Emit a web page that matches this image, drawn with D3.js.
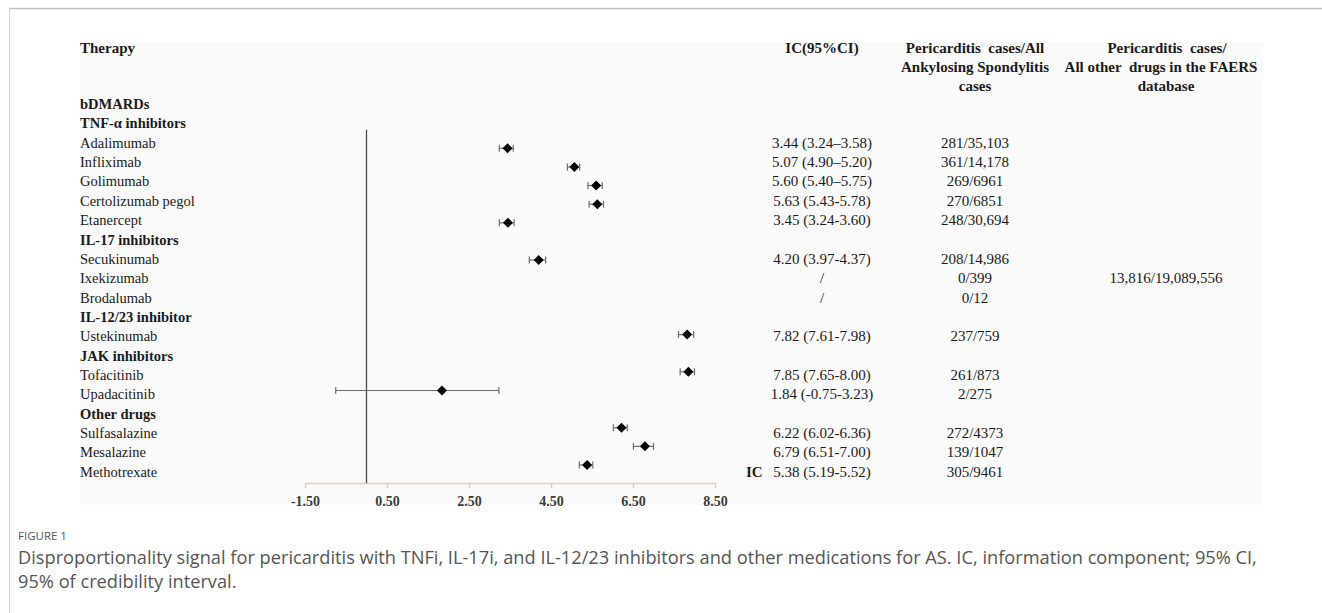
<!DOCTYPE html>
<html>
<head>
<meta charset="utf-8">
<script src="https://cdn.jsdelivr.net/npm/d3@7"></script>
<style>
  html, body { margin: 0; padding: 0; background: #fff; }
  svg { display: block; }
</style>
</head>
<body>
<svg id="chart" width="1322" height="613"></svg>
<script>
// ---------------- DATA ----------------
const rowLabels = ["bDMARDs","TNF-α inhibitors","Adalimumab","Infliximab","Golimumab","Certolizumab pegol","Etanercept","IL-17 inhibitors","Secukinumab","Ixekizumab","Brodalumab","IL-12/23 inhibitor","Ustekinumab","JAK inhibitors","Tofacitinib","Upadacitinib","Other drugs","Sulfasalazine","Mesalazine","Methotrexate"];
const groupRows = ["bDMARDs","TNF-α inhibitors","IL-17 inhibitors","IL-12/23 inhibitor","JAK inhibitors","Other drugs"];
const drugs = ["Adalimumab","Infliximab","Golimumab","Certolizumab pegol","Etanercept","Secukinumab","Ixekizumab","Brodalumab","Ustekinumab","Tofacitinib","Upadacitinib","Sulfasalazine","Mesalazine","Methotrexate"];
const icPoint = [3.44, 5.07, 5.60, 5.63, 3.45, 4.20, null, null, 7.82, 7.85, 1.84, 6.22, 6.79, 5.38];
const icLower = [3.24, 4.90, 5.40, 5.43, 3.24, 3.97, null, null, 7.61, 7.65, -0.75, 6.02, 6.51, 5.19];
const icUpper = [3.58, 5.20, 5.75, 5.78, 3.60, 4.37, null, null, 7.98, 8.00, 3.23, 6.36, 7.00, 5.52];
const icLabels = ["3.44 (3.24–3.58)","5.07 (4.90–5.20)","5.60 (5.40–5.75)","5.63 (5.43-5.78)","3.45 (3.24-3.60)","4.20 (3.97-4.37)","/","/","7.82 (7.61-7.98)","7.85 (7.65-8.00)","1.84 (-0.75-3.23)","6.22 (6.02-6.36)","6.79 (6.51-7.00)","5.38 (5.19-5.52)"];
const asCases = ["281/35,103","361/14,178","269/6961","270/6851","248/30,694","208/14,986","0/399","0/12","237/759","261/873","2/275","272/4373","139/1047","305/9461"];
const faersDrug = "Ixekizumab";
const faersCases = "13,816/19,089,556";
const xTicks = [-1.5, 0.5, 2.5, 4.5, 6.5, 8.5];
const refValue = 0;
const headerTherapy = "Therapy";
const headerIC = ["IC(95%CI)"];
const headerAS = ["Pericarditis  cases/All", "Ankylosing Spondylitis", "cases"];
const headerFAERS = ["Pericarditis  cases/", "All other  drugs in the FAERS", "database"];
const axisTitle = "IC";
const captionTitle = "FIGURE 1";
const captionLines = [
  "Disproportionality signal for pericarditis with TNFi, IL-17i, and IL-12/23 inhibitors and other medications for AS. IC, information component; 95% CI,",
  "95% of credibility interval."
];

// ---------------- LAYOUT ----------------
const svg = d3.select("#chart");
const serif = "'Liberation Serif', 'Times New Roman', serif";
const sans = "'Open Sans', 'Noto Sans', sans-serif";

// frame lines
svg.append("line").attr("x1", 9).attr("x2", 1322).attr("y1", 8.5).attr("y2", 8.5)
  .attr("stroke", "#bdbdbd").attr("stroke-width", 1.5);
svg.append("line").attr("x1", 9.5).attr("x2", 9.5).attr("y1", 8).attr("y2", 613)
  .attr("stroke", "#d4d4d4").attr("stroke-width", 1);

// figure panel
svg.append("rect").attr("x", 80).attr("y", 42).attr("width", 1183).attr("height", 463)
  .attr("fill", "#fafafa");

const x = d3.scaleLinear().domain([-1.5, 8.5]).range([305, 715]);
// text rows and plotted rows (slightly different pitch in the source figure)
const yText = d3.scaleLinear().domain([0, 19]).range([109, 476.8]);
const yMark = d3.scaleLinear().domain([2, 19]).range([148.3, 465]);
const idx = name => rowLabels.indexOf(name);

// headers
const hdr = svg.append("g").attr("font-family", serif).attr("font-weight", "bold")
  .attr("font-size", 15).attr("fill", "#1a1a1a");
hdr.append("text").attr("x", 80).attr("y", 53).text(headerTherapy);
headerIC.forEach((t, i) => hdr.append("text").attr("x", 822).attr("y", 53 + i * 19)
  .attr("text-anchor", "middle").text(t));
headerAS.forEach((t, i) => hdr.append("text").attr("x", 975).attr("y", 53 + i * 19)
  .attr("text-anchor", "middle").style("white-space", "pre").text(t));
const faersCx = [1167, 1161, 1166];
headerFAERS.forEach((t, i) => hdr.append("text").attr("x", faersCx[i]).attr("y", 53 + i * 19)
  .attr("text-anchor", "middle").style("white-space", "pre").text(t));

// row labels
svg.append("g").selectAll("text").data(rowLabels).join("text")
  .attr("x", 80).attr("y", (d, i) => yText(i))
  .attr("font-family", serif).attr("font-size", 14.5)
  .attr("font-weight", d => groupRows.includes(d) ? "bold" : "normal")
  .attr("fill", "#1a1a1a")
  .text(d => d);

// table columns
const tbl = svg.append("g").attr("font-family", serif).attr("font-size", 15).attr("fill", "#1a1a1a")
  .attr("text-anchor", "middle");
tbl.selectAll("text.ic").data(drugs).join("text").attr("class", "ic")
  .attr("x", 822).attr("y", d => yText(idx(d)))
  .text((d, i) => icLabels[i]);
tbl.selectAll("text.as").data(drugs).join("text").attr("class", "as")
  .attr("x", 975).attr("y", d => yText(idx(d)))
  .text((d, i) => asCases[i]);
tbl.append("text").attr("x", 1166).attr("y", yText(idx(faersDrug))).text(faersCases);

// axis
const fmt = d => d3.format(".2f")(d).replace("−", "-");
const axisG = svg.append("g").attr("transform", "translate(0,483)");
axisG.call(d3.axisBottom(x).tickValues(xTicks).tickFormat(fmt).tickSize(5).tickSizeOuter(0));
axisG.select(".domain").attr("stroke", "#dacfc8").attr("stroke-width", 1.5);
axisG.selectAll(".tick line").attr("stroke", "#dacfc8").attr("stroke-width", 1.5);
axisG.selectAll(".tick text").attr("font-family", serif).attr("font-weight", "bold")
  .attr("font-size", 14).attr("fill", "#3a3a3a").attr("dy", "1.05em");

// axis title
svg.append("text").attr("x", 746).attr("y", yText(19)).attr("font-family", serif)
  .attr("font-weight", "bold").attr("font-size", 15).attr("fill", "#1a1a1a").text(axisTitle);

// reference line at 0
svg.append("line").attr("x1", x(refValue)).attr("x2", x(refValue))
  .attr("y1", yMark(1)).attr("y2", 483)
  .attr("stroke", "#4a4a4a").attr("stroke-width", 1.3);

// forest marks
const pts = drugs.map((d, i) => ({d, v: icPoint[i], lo: icLower[i], hi: icUpper[i]})).filter(p => p.v !== null);
const mk = svg.append("g");
const ciG = mk.selectAll("g.ci").data(pts).join("g").attr("class", "ci")
  .attr("stroke", "#6e6e6e").attr("stroke-width", 1.2);
ciG.append("line").attr("x1", p => x(p.lo)).attr("x2", p => x(p.hi))
  .attr("y1", p => yMark(idx(p.d))).attr("y2", p => yMark(idx(p.d)));
ciG.append("line").attr("x1", p => x(p.lo)).attr("x2", p => x(p.lo))
  .attr("y1", p => yMark(idx(p.d)) - 3.5).attr("y2", p => yMark(idx(p.d)) + 3.5);
ciG.append("line").attr("x1", p => x(p.hi)).attr("x2", p => x(p.hi))
  .attr("y1", p => yMark(idx(p.d)) - 3.5).attr("y2", p => yMark(idx(p.d)) + 3.5);
mk.selectAll("path.dm").data(pts).join("path").attr("class", "dm")
  .attr("transform", p => `translate(${x(p.v)},${yMark(idx(p.d))})`)
  .attr("d", "M0,-5L5,0L0,5L-5,0Z").attr("fill", "#000");

// caption
svg.append("text").attr("x", 18).attr("y", 540).attr("font-family", sans)
  .attr("font-size", 11.5).attr("fill", "#555").text(captionTitle);
const capTexts = captionLines.map((t, i) => svg.append("text").attr("x", 18).attr("y", 564 + i * 24)
  .attr("font-family", sans).attr("font-size", 16.5).attr("fill", "#555").text(t));
// fit first caption line to the width it has in the source layout
const w0 = capTexts[0].node().getComputedTextLength();
const capSize = Math.min(18.5, 16.5 * 1239 / w0);
capTexts.forEach(t => t.attr("font-size", capSize));
</script>
</body>
</html>
